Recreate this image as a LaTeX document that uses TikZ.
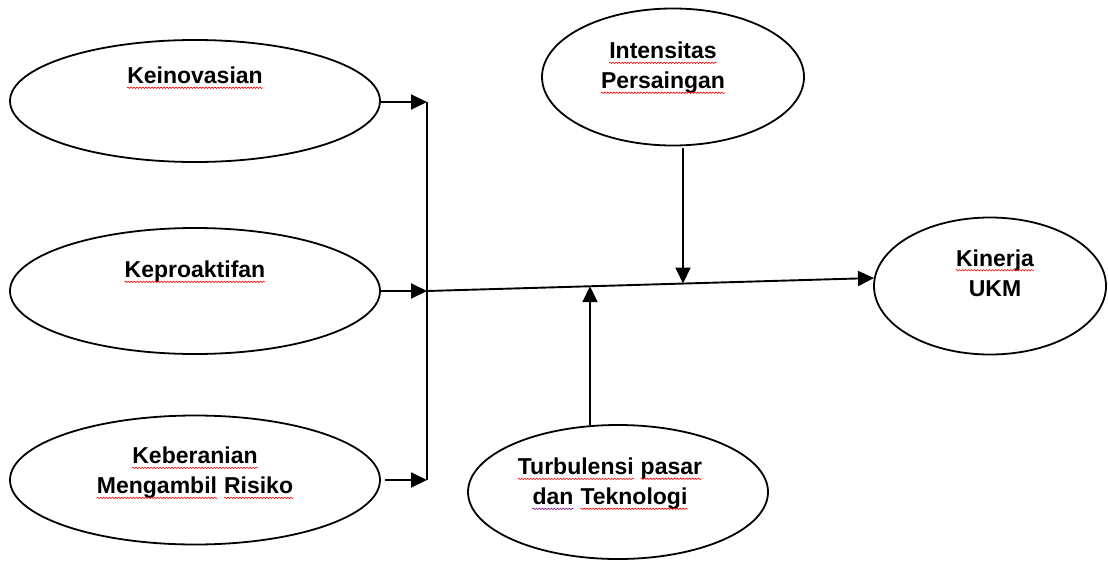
\documentclass[tikz,border=0pt]{standalone}
\usepackage{fontspec}
\setmainfont{Liberation Sans}
\usetikzlibrary{arrows.meta,shapes.geometric,decorations.pathmorphing}
\newcommand\sqc[2]{\tikz[baseline=(w.base)]{\node[inner sep=0pt] (w) {#2};\draw[#1, line width=0.6pt, decorate, decoration={snake,amplitude=0.7pt,segment length=3pt}] ([yshift=-4pt]w.base west) -- ([yshift=-4pt]w.base east);}}
\newcommand\sqr[1]{\sqc{red}{#1}}
\newcommand\sqp[1]{\sqc{violet}{#1}}
\newcommand\wsp{\hspace{6pt}}
\tikzset{
  ell/.style={draw, ellipse, line width=1.8pt, inner sep=0pt},
  lbl/.style={font=\fontsize{23}{30}\selectfont\bfseries, align=center, inner sep=0pt},
  con/.style={line width=1.9pt},
  arr/.style={line width=1.9pt, -{Triangle[length=16pt,width=15pt]}},
}
\begin{document}
\begin{tikzpicture}[x=1pt,y=-1pt]
\useasboundingbox (0,0) rectangle (1108,560);
% ellipses
\node[ell, minimum width=370pt, minimum height=122pt] (kei) at (195,101) {};
\node[ell, minimum width=370pt, minimum height=126pt] (kep) at (195,291) {};
\node[ell, minimum width=370pt, minimum height=129pt] (keb) at (195,480) {};
\node[ell, minimum width=262pt, minimum height=137pt] (int) at (673,77) {};
\node[ell, minimum width=232pt, minimum height=137pt] (kin) at (990,286) {};
\node[ell, minimum width=300pt, minimum height=134pt] (tur) at (618,492) {};
% labels
\node[lbl] (tkei) at (195,78) {\sqr{Keinovasian}};
\node[lbl] (tkep) at (195,272) {\sqr{Keproaktifan}};
\node[lbl] (tkeb) at (195,473) {\sqr{Keberanian}\\\sqr{Mengambil}\wsp\sqr{Risiko}};
\node[lbl] (tint) at (663,68) {\sqr{Intensitas}\\\sqr{Persaingan}};
\node[lbl] (tkin) at (995,273) {\sqr{Kinerja}\\UKM};
\node[lbl] (ttur) at (610,484) {\sqr{Turbulensi}\wsp\sqr{pasar}\\\sqp{dan}\wsp\sqr{Teknologi}};
% junction coordinates
\coordinate (j1) at (427,102);
\coordinate (j2) at (427,291);
\coordinate (j3) at (427,480);
\coordinate (kinin) at (874,278);
\coordinate (ms) at (683,148);
\coordinate (me) at (683,283.5);
\coordinate (ts) at (590,425);
\coordinate (te) at (590,286.2);
\coordinate (b1) at (381,102);
\coordinate (b2) at (381,291);
\coordinate (b3) at (385,480);
% connectors
\draw[arr] (b1) -- (j1);
\draw[arr] (b2) -- (j2);
\draw[arr] (b3) -- (j3);
\draw[con] (j1) -- (j3);
\draw[arr] (j2) -- (kinin);
\draw[arr] (ms) -- (me);
\draw[arr] (ts) -- (te);
\end{tikzpicture}
\end{document}
